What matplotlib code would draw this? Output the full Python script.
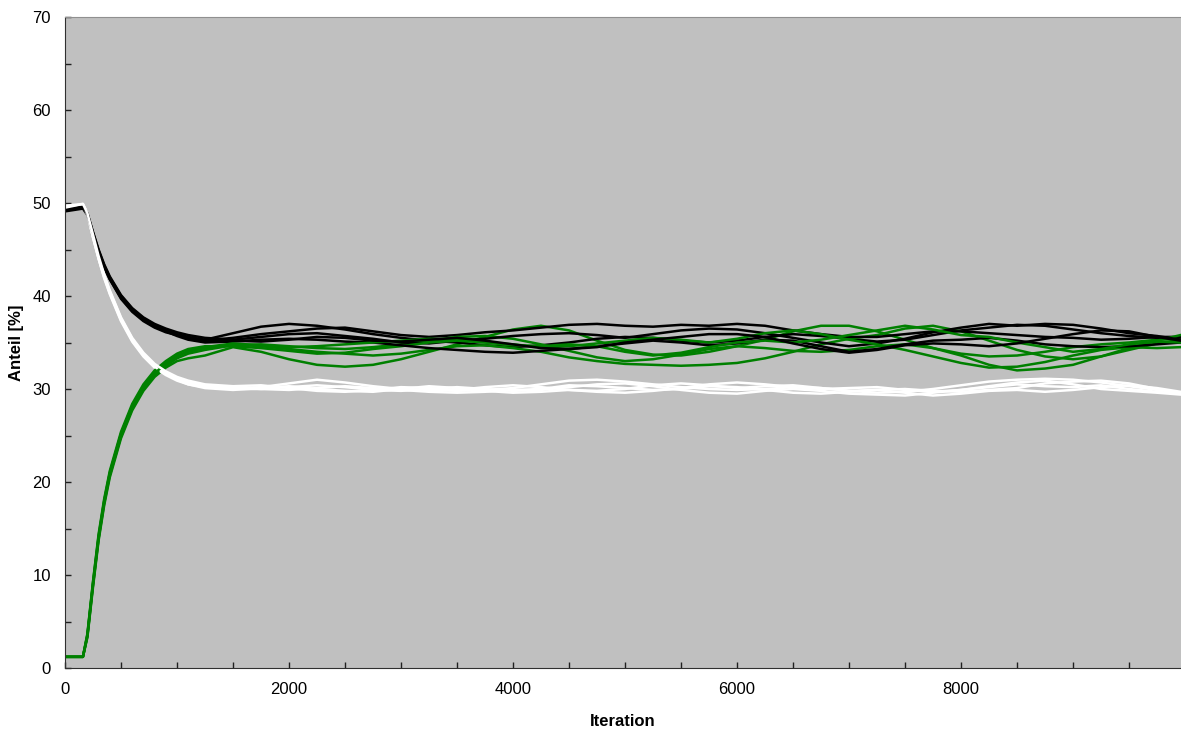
import matplotlib
matplotlib.use("Agg")
import matplotlib.pyplot as plt
from matplotlib.ticker import MultipleLocator

plt.rcParams['font.family'] = ['Liberation Sans', 'DejaVu Sans']

# Iterationsschritte (gemeinsam fuer alle Laeufe)
iters = [0, 160, 200, 250, 300, 350, 400, 500, 600, 700, 800, 900, 1000, 1100,
         1250, 1500, 1750, 2000, 2250, 2500, 2750, 3000, 3250, 3500, 3750,
         4000, 4250, 4500, 4750, 5000, 5250, 5500, 5750, 6000, 6250, 6500,
         6750, 7000, 7250, 7500, 7750, 8000, 8250, 8500, 8750, 9000, 9250,
         9500, 9750, 9960]

# schwarz - 5 Laeufe
black_runs = [
    [49.3, 49.5, 48.8, 46.7, 44.8, 43.2, 41.9, 39.9, 38.5, 37.5, 36.8, 36.3, 35.9, 35.6,
     35.3, 36.0, 36.7, 37.0, 36.8, 36.4, 35.9, 35.5, 35.2, 35.0, 34.7,
     34.5, 34.7, 35.0, 35.4, 35.6, 35.5, 35.2, 35.0, 35.2, 35.6, 35.9,
     35.7, 35.4, 35.1, 35.3, 35.8, 36.3, 36.6, 36.9, 36.8, 36.4, 36.0,
     35.7, 35.5, 35.4],
    [49.1, 49.4, 48.7, 46.6, 44.7, 43.1, 41.8, 39.7, 38.3, 37.3, 36.6, 36.1, 35.8, 35.5,
     35.2, 35.5, 35.9, 36.2, 36.5, 36.6, 36.2, 35.8, 35.6, 35.8, 36.1,
     36.3, 36.6, 36.9, 37.0, 36.8, 36.7, 36.9, 36.8, 37.0, 36.8, 36.3,
     35.9, 35.6, 35.6, 35.9, 36.2, 36.2, 36.0, 35.8, 35.6, 35.5, 35.3,
     35.4, 35.6, 35.6],
    [49.5, 49.6, 48.9, 46.9, 45.0, 43.4, 42.1, 40.1, 38.7, 37.7, 37.0, 36.5, 36.1, 35.8,
     35.5, 35.3, 35.6, 35.9, 36.0, 35.7, 35.4, 35.0, 34.9, 35.2, 35.4,
     35.7, 35.9, 36.0, 35.8, 35.5, 35.9, 36.3, 36.5, 36.4, 36.0, 35.5,
     35.0, 34.6, 34.9, 35.4, 36.1, 36.6, 37.0, 36.8, 37.0, 36.9, 36.5,
     36.0, 35.7, 35.3],
    [49.2, 49.5, 48.8, 46.6, 44.7, 43.1, 41.8, 39.8, 38.4, 37.4, 36.7, 36.2, 35.7, 35.3,
     35.0, 35.1, 35.3, 35.4, 35.3, 35.1, 35.0, 34.7, 34.4, 34.2, 34.0,
     33.9, 34.1, 34.3, 34.6, 34.9, 35.2, 35.0, 34.7, 34.9, 35.3, 35.2,
     34.6, 34.0, 34.3, 34.8, 35.2, 35.3, 35.5, 35.2, 34.8, 34.6, 34.5,
     34.6, 34.8, 35.0],
    [49.4, 49.6, 48.9, 46.8, 44.9, 43.3, 42.0, 40.0, 38.6, 37.6, 36.9, 36.3, 35.8, 35.4,
     35.1, 35.2, 35.1, 35.3, 35.6, 35.5, 35.2, 35.1, 35.3, 35.5, 35.2,
     34.8, 34.4, 34.3, 34.5, 35.0, 35.3, 35.6, 35.9, 35.9, 35.6, 34.9,
     34.3, 33.9, 34.2, 34.7, 34.9, 34.8, 34.6, 34.9, 35.4, 35.9, 36.3,
     36.2, 35.6, 35.2],
]

# gruen - 5 Laeufe
green_runs = [
    [1.2, 1.2, 3.3, 8.7, 13.7, 17.5, 20.5, 24.7, 27.7, 29.8, 31.3, 32.3, 33.0, 33.3,
     33.6, 34.5, 34.0, 33.2, 32.6, 32.4, 32.6, 33.2, 34.0, 34.8, 35.6,
     36.4, 36.8, 36.3, 35.2, 34.2, 33.7, 33.6, 34.0, 34.6, 35.3, 36.2,
     36.8, 36.8, 36.2, 35.3, 34.4, 33.8, 33.5, 33.6, 34.0, 34.5, 34.8,
     35.0, 35.3, 35.4],
    [1.2, 1.2, 3.6, 9.2, 14.2, 18.0, 21.0, 25.2, 28.2, 30.3, 31.8, 32.8, 33.6, 34.0,
     34.4, 34.8, 34.6, 34.3, 34.0, 33.8, 33.6, 33.8, 34.2, 34.6, 34.7,
     34.4, 34.0, 33.4, 33.0, 32.7, 32.6, 32.5, 32.6, 32.8, 33.3, 34.0,
     34.8, 35.4, 35.8, 36.5, 36.8, 36.2, 35.2, 34.2, 33.5, 33.2, 33.5,
     34.2, 34.9, 35.3],
    [1.2, 1.2, 3.4, 8.9, 13.9, 17.7, 20.7, 24.9, 27.9, 30.0, 31.5, 32.5, 33.3, 33.8,
     34.2, 34.7, 34.8, 34.6, 34.4, 34.3, 34.5, 34.8, 35.2, 35.6, 35.7,
     35.4, 34.8, 34.1, 33.4, 33.0, 33.2, 33.7, 34.3, 34.6, 34.4, 34.1,
     34.0, 34.2, 34.6, 34.8, 34.4, 33.6, 32.6, 32.0, 32.2, 32.6, 33.5,
     34.4, 35.2, 35.8],
    [1.2, 1.2, 3.7, 9.3, 14.4, 18.2, 21.2, 25.4, 28.4, 30.5, 32.0, 33.0, 33.8, 34.3,
     34.6, 34.6, 34.4, 34.1, 33.8, 33.9, 34.3, 34.6, 35.0, 35.2, 35.0,
     34.8, 34.5, 34.6, 34.9, 35.2, 35.5, 35.3, 35.0, 35.4, 36.0, 36.3,
     35.9, 35.3, 34.8, 34.2, 33.5, 32.8, 32.3, 32.4, 32.9, 33.6, 34.2,
     34.5, 34.4, 34.5],
    [1.2, 1.2, 3.5, 9.0, 14.0, 17.9, 20.9, 25.1, 28.1, 30.2, 31.7, 32.7, 33.5, 34.1,
     34.5, 34.9, 34.7, 34.5, 34.6, 34.8, 35.0, 35.2, 35.4, 35.3, 35.0,
     34.7, 34.6, 34.8, 34.6, 34.0, 33.6, 33.9, 34.5, 35.0, 35.2, 35.0,
     35.3, 35.8, 36.3, 36.8, 36.4, 35.8, 35.6, 35.0, 34.5, 34.0, 34.3,
     34.8, 35.1, 35.0],
]

# weiss - 5 Laeufe
white_runs = [
    [49.5, 49.8, 48.8, 46.4, 44.1, 42.1, 40.4, 37.5, 35.3, 33.7, 32.5, 31.7, 31.1, 30.7,
     30.3, 30.1, 30.2, 30.6, 31.0, 30.7, 30.3, 30.0, 29.9, 29.8, 29.9,
     30.1, 30.5, 30.9, 31.0, 30.8, 30.5, 30.2, 30.0, 29.9, 30.0, 30.2,
     30.1, 29.8, 29.6, 29.7, 30.0, 30.4, 30.8, 31.0, 31.1, 31.0, 30.7,
     30.3, 29.9, 29.6],
    [49.7, 49.9, 48.9, 46.3, 44.0, 41.9, 40.2, 37.3, 35.1, 33.5, 32.3, 31.5, 30.9, 30.5,
     30.2, 30.0, 30.0, 30.2, 30.4, 30.2, 29.9, 29.8, 30.0, 30.2, 30.0,
     29.8, 29.9, 30.2, 30.5, 30.6, 30.3, 29.9, 29.6, 29.5, 29.8, 30.0,
     29.8, 29.5, 29.4, 29.3, 29.6, 29.9, 30.2, 30.5, 30.3, 30.2, 30.4,
     30.0, 29.7, 29.5],
    [49.4, 49.7, 48.7, 46.5, 44.2, 42.2, 40.5, 37.6, 35.4, 33.8, 32.6, 31.8, 31.2, 30.8,
     30.4, 30.2, 30.0, 29.9, 30.1, 30.3, 30.1, 29.9, 29.7, 29.6, 29.7,
     29.9, 30.0, 30.4, 30.3, 30.1, 29.9, 30.0, 30.3, 30.2, 29.9, 29.6,
     29.5, 29.7, 29.9, 30.0, 29.8, 29.7, 29.9, 30.1, 30.6, 30.8, 30.9,
     30.6, 30.0, 29.5],
    [49.6, 49.8, 48.8, 46.3, 44.0, 42.0, 40.3, 37.4, 35.2, 33.6, 32.4, 31.6, 31.0, 30.5,
     30.1, 29.9, 30.1, 30.3, 30.0, 29.8, 29.7, 30.0, 30.3, 30.1, 29.8,
     29.6, 29.7, 29.9, 29.8, 30.0, 30.4, 30.6, 30.4, 30.1, 30.3, 30.4,
     30.1, 29.8, 29.9, 29.6, 29.3, 29.5, 29.8, 29.9, 29.7, 29.9, 30.2,
     30.4, 30.1, 29.7],
    [49.5, 49.9, 48.9, 46.6, 44.3, 42.3, 40.6, 37.7, 35.5, 33.9, 32.7, 31.9, 31.3, 30.9,
     30.5, 30.3, 30.4, 30.1, 29.8, 29.7, 29.9, 30.2, 30.1, 29.9, 30.2,
     30.4, 30.2, 29.9, 29.7, 29.6, 29.8, 30.1, 30.5, 30.7, 30.5, 30.2,
     30.0, 30.1, 30.2, 29.9, 29.7, 29.9, 30.3, 30.7, 30.9, 30.5, 30.0,
     29.8, 29.6, 29.4],
]

fig = plt.figure(figsize=(11.81, 7.33), dpi=100)
ax = fig.add_axes([65 / 1181, 65 / 733, 1116 / 1181, 651 / 733])
ax.set_facecolor('#c0c0c0')

for b, g, w in zip(black_runs, green_runs, white_runs):
    ax.plot(iters, g, color='#008000', lw=1.8)
    ax.plot(iters, b, color='black', lw=1.8)
    ax.plot(iters, w, color='white', lw=1.8)

ax.set_xlim(0, 9964)
ax.set_ylim(0, 70)
ax.xaxis.set_major_locator(MultipleLocator(2000))
ax.xaxis.set_minor_locator(MultipleLocator(500))
ax.yaxis.set_major_locator(MultipleLocator(10))
ax.yaxis.set_minor_locator(MultipleLocator(5))
ax.tick_params(which='both', direction='in', length=4, width=1, color='#202020')
ax.tick_params(which='major', labelsize=12, pad=10)
ax.tick_params(top=False, right=False)

ax.spines['right'].set_visible(False)
ax.spines['top'].set_color('#909090')
ax.spines['left'].set_color('#303030')
ax.spines['bottom'].set_color('#303030')

ax.set_xlabel('Iteration', fontsize=12, fontweight='bold', labelpad=12)
ax.set_ylabel('Anteil [%]', fontsize=12, fontweight='bold', labelpad=6)

fig.savefig('out.png', dpi=100)
